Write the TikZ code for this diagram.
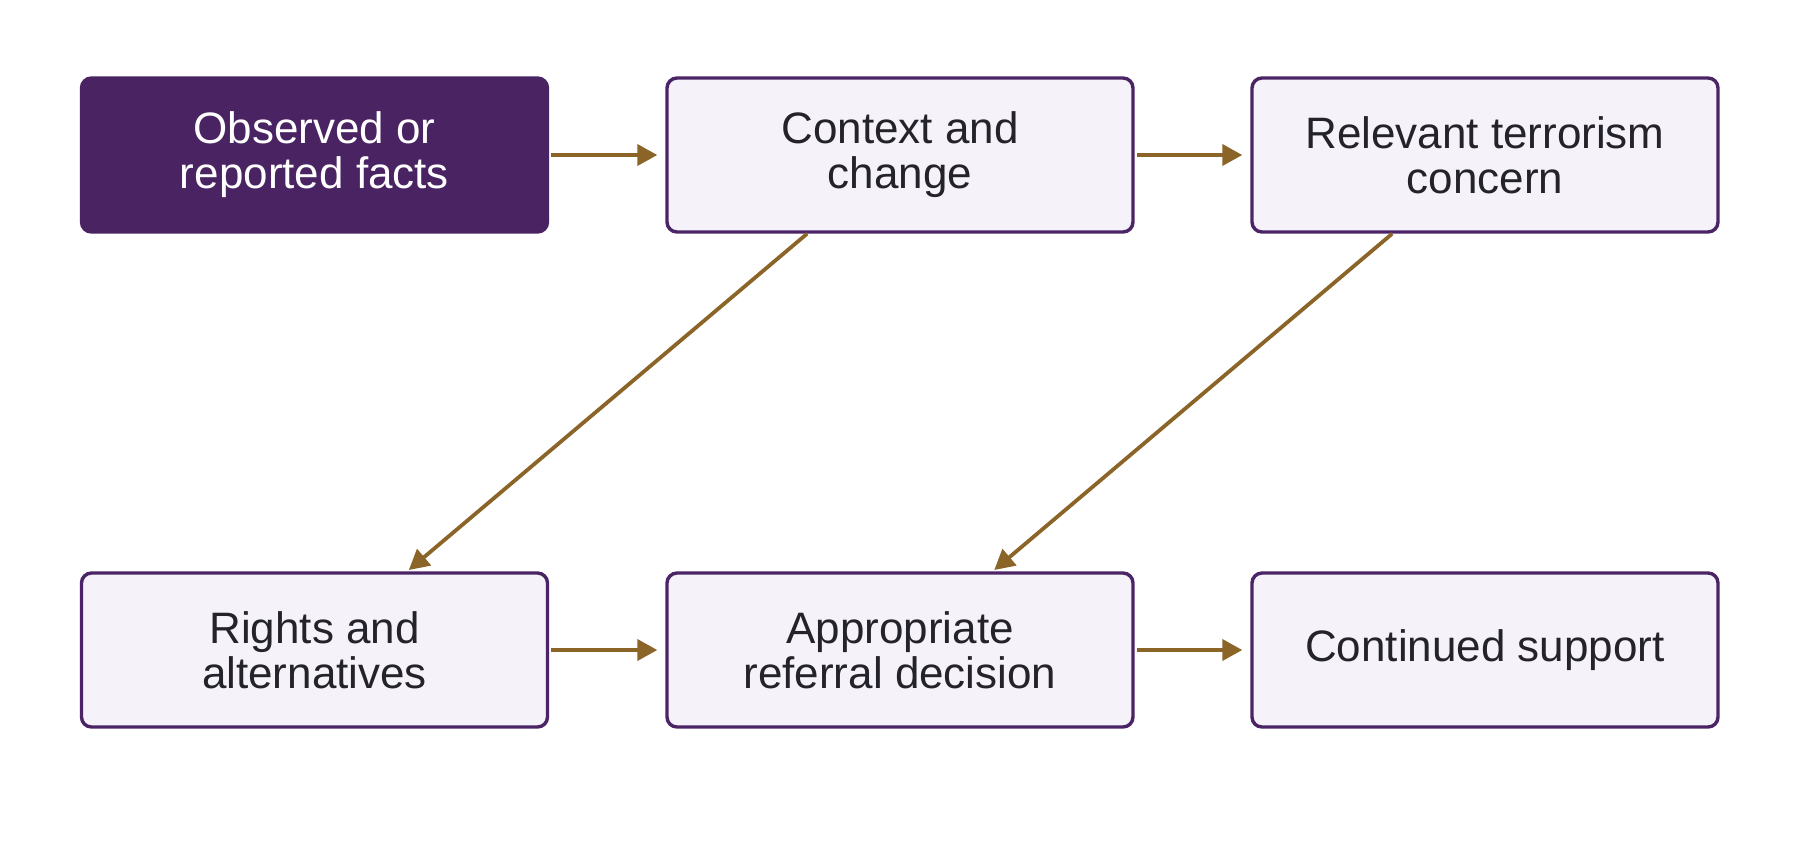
\documentclass[tikz,border=0pt]{standalone}
\usepackage{fontspec}
\setmainfont{Liberation Sans}
\usetikzlibrary{arrows.meta}
\definecolor{darkpurple}{HTML}{4A2363}
\definecolor{borderpurple}{HTML}{4B2466}
\definecolor{lightfill}{HTML}{F5F3F9}
\definecolor{arrowbrown}{HTML}{8B6428}
\definecolor{textdark}{HTML}{24222A}
\begin{document}
\begin{tikzpicture}[x=0.5pt,y=-0.5pt,
  box/.style={rectangle, rounded corners=5pt, minimum width=233pt, minimum height=77pt,
    inner sep=0pt, line width=1.7pt, draw=borderpurple, fill=lightfill, text=textdark,
    align=center, font=\fontsize{22pt}{22.5pt}\selectfont},
  startbox/.style={box, fill=darkpurple, draw=darkpurple, text=white},
  link/.style={draw=arrowbrown, line width=1.9pt, -{Triangle[length=10pt,width=10.5pt]}}
]
\useasboundingbox (0,0) rectangle (1800,864);
\node[startbox] (b1) at (314.5,155) {Observed or\\reported facts};
\node[box] (b2) at (900,155) {Context and\\change};
\node[box] (b3) at (1485,155) {Relevant terrorism\\concern};
\node[box] (b4) at (314.5,650) {Rights and\\alternatives};
\node[box] (b5) at (900,650) {Appropriate\\referral decision};
\node[box] (b6) at (1485,650) {Continued support};
\draw[link, shorten <=1pt, shorten >=4pt] (b1) -- (b2);
\draw[link, shorten <=1pt, shorten >=4pt] (b2) -- (b3);
\draw[link, shorten >=1pt] (b2) -- (b4);
\draw[link, shorten >=1pt] (b3) -- (b5);
\draw[link, shorten <=1pt, shorten >=4pt] (b4) -- (b5);
\draw[link, shorten <=1pt, shorten >=4pt] (b5) -- (b6);
\end{tikzpicture}
\end{document}
